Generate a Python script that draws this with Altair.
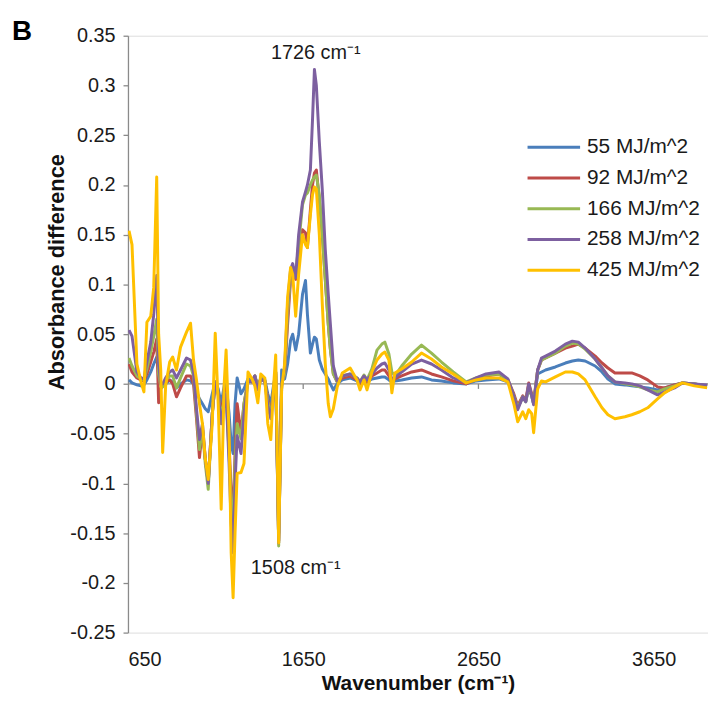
import altair as alt
import pandas as pd

# ---------------- data ----------------
wavenumber = [656, 673, 701, 724, 741, 758, 780, 797, 814, 825, 837, 848, 865, 888, 905, 927, 950, 984, 1007, 1024,
              1041, 1058, 1075, 1091, 1108, 1131, 1148, 1165, 1182, 1199, 1210, 1227, 1239, 1250, 1261, 1273, 1295, 1312,
              1335, 1358, 1374, 1391, 1408, 1431, 1448, 1465, 1482, 1493, 1510, 1527, 1544, 1561, 1578, 1590, 1607, 1624,
              1646, 1663, 1674, 1691, 1703, 1714, 1725, 1742, 1759, 1776, 1793, 1805, 1822, 1844, 1873, 1918, 1957, 1974,
              1997, 2014, 2042, 2071, 2099, 2116, 2139, 2156, 2173, 2212, 2269, 2325, 2382, 2439, 2506, 2580, 2637, 2693,
              2767, 2818, 2852, 2874, 2903, 2920, 2937, 2954, 2965, 2988, 3010, 3033, 3089, 3146, 3186, 3220, 3259, 3316,
              3355, 3389, 3429, 3486, 3525, 3571, 3616, 3672, 3712, 3769, 3814, 3882, 3955]

s55 = [.004, .001, -.001, -.002, -.001, .004, .012, .020, .027, .015, .000, -.002, .000, .004, .002, -.004, .000, .004, .003, .000,
       -.008, -.015, -.020, -.025, -.028, -.010, .002, -.005, -.020, -.002, .000, -.030, -.060, -.070, -.020, .006, -.010, -.005,
       .005, .003, .008, -.002, .006, .004, -.010, -.020, .000, .010, -.150, .014, .005, .020, .044, .050, .034, .050,
       .090, .104, .070, .031, .040, .047, .045, .024, .015, .010, .005, .000, -.006, .000, .004, .006, .003, .001,
       .004, .002, .005, .006, .007, .007, .004, .002, .003, .004, .006, .007, .004, .003, .001, .000, .003, .004,
       .005, .002, -.012, -.024, -.013, -.018, -.004, -.012, -.020, .010, .012, .014, .017, .021, .023, .024, .023, .018,
       .012, .005, .000, -.001, -.002, -.003, -.004, -.006, -.004, -.001, .001, .000, -.002]

s92 = [.020, .012, .006, .004, .003, .010, .022, .032, .045, -.019, -.005, -.002, .002, .004, .000, -.013, -.004, .008, .008, .000,
       -.035, -.074, -.045, -.075, -.100, -.030, .002, -.010, -.030, -.010, -.005, -.060, -.110, -.130, -.070, -.020, -.050, -.020,
       .003, .002, .008, -.004, .005, .003, -.015, -.030, -.005, .012, -.158, .000, .010, .060, .105, .115, .105, .125,
       .155, .152, .137, .175, .200, .212, .215, .185, .150, .105, .060, .035, .010, .002, .006, .008, .004, .000,
       .006, .002, .008, .011, .014, .014, .008, .003, .005, .008, .012, .014, .010, .007, .003, .000, .005, .008,
       .010, .004, -.010, -.022, -.012, -.016, .001, -.010, -.018, .014, .024, .026, .031, .036, .038, .040, .036, .028,
       .021, .016, .011, .011, .011, .008, .004, -.003, -.004, -.001, .001, .000, -.002]

s166 = [.026, .018, .008, .005, .004, .015, .032, .048, .065, .010, -.002, -.003, .004, .008, .008, -.004, .006, .020, .018, .008,
        -.030, -.066, -.045, -.080, -.106, -.030, .002, -.010, -.035, -.015, -.010, -.070, -.120, -.150, -.080, -.040, -.055, -.020,
        .003, .002, .008, -.004, .005, .003, -.018, -.032, -.005, .012, -.163, .000, .010, .070, .110, .118, .110, .140,
        .180, .190, .192, .200, .205, .208, .210, .190, .150, .105, .060, .035, .010, .002, .008, .010, .006, .002,
        .009, .004, .015, .034, .040, .042, .030, .012, .008, .018, .030, .039, .031, .022, .012, .002, .006, .009,
        .010, .004, -.012, -.024, -.013, -.018, -.002, -.012, -.020, .014, .024, .026, .031, .038, .041, .040, .035, .025,
        .016, .008, .002, .000, -.001, -.003, -.006, -.008, -.005, -.002, .001, .000, -.002]

s258 = [.054, .048, .012, .006, .005, .022, .042, .070, .109, .020, .000, .000, .006, .012, .014, .006, .014, .026, .024, .012,
        -.025, -.056, -.040, -.075, -.100, -.030, .002, -.010, -.040, -.020, -.010, -.080, -.140, -.170, -.100, -.052, -.070, -.030,
        .003, .002, .008, -.006, .005, .002, -.022, -.035, -.008, .012, -.160, -.002, .015, .080, .115, .121, .107, .150,
        .183, .193, .200, .215, .265, .316, .300, .243, .195, .135, .090, .060, .018, .003, .008, .010, .006, .002,
        .008, .004, .010, .016, .020, .021, .014, .005, .006, .012, .020, .024, .020, .014, .006, .001, .006, .010,
        .012, .005, -.012, -.026, -.013, -.018, .000, -.012, -.021, .014, .026, .028, .033, .040, .043, .042, .036, .025,
        .016, .008, .002, .001, .000, -.002, -.006, -.011, -.008, -.004, .001, .000, -.001]

s425 = [.154, .140, .020, .002, -.008, .062, .068, .097, .208, .050, .014, -.069, -.002, .022, .027, .014, .037, .052, .061, .024,
        .004, -.020, -.040, -.075, -.096, -.040, .051, -.020, -.126, .000, .034, -.050, -.170, -.215, -.150, -.090, -.089, -.080,
        .012, .005, -.002, -.019, .010, .006, -.040, -.056, .000, .029, -.160, -.005, .020, .087, .117, .110, .068, .110,
        .150, .140, .137, .170, .190, .198, .196, .150, .080, .020, -.020, -.033, -.025, -.003, .011, .016, .004, -.006,
        .004, -.006, .012, .024, .030, .032, .024, -.009, .011, .015, .022, .031, .025, .017, .010, .001, .004, .006,
        .006, .002, -.020, -.038, -.028, -.035, -.026, -.030, -.049, -.005, .003, .002, .007, .012, .012, .010, .004, -.013,
        -.024, -.031, -.035, -.033, -.031, -.028, -.024, -.015, -.009, -.003, .001, -.002, -.004]

series_names = ["55 MJ/m^2", "92 MJ/m^2", "166 MJ/m^2", "258 MJ/m^2", "425 MJ/m^2"]
series_colors = ["#4A7EBB", "#BE4B48", "#98B954", "#7D60A0", "#FFC000"]
x_ticks = [650, 1650, 2650, 3650]
y_ticks = [-0.25, -0.2, -0.15, -0.1, -0.05, 0, 0.05, 0.1, 0.15, 0.2, 0.25, 0.3, 0.35]
peak_text = ["1726 cm\u207b\u00b9", "1508 cm\u207b\u00b9"]
peak_text_x = [1722, 1607]
peak_text_y = [0.333, -0.185]

# ---------------- tables ----------------
rows = []
for name, vals in zip(series_names, [s55, s92, s166, s258, s425]):
    for w, v in zip(wavenumber, vals):
        rows.append({"wn": w, "val": v, "series": name})
df = pd.DataFrame(rows)

zero_df = pd.DataFrame({"x0": [650], "x1": [3960], "y": [0]})
tick_df = pd.DataFrame({"wn": x_ticks[1:]})
ann_df = pd.DataFrame({"t": peak_text, "wn": peak_text_x, "val": peak_text_y})
panel_df = pd.DataFrame({"t": ["B"]})

FONT = "Liberation Sans, Arial, sans-serif"
XMIN, XMAX = 650, 3960
xscale = alt.Scale(domain=[XMIN, XMAX], nice=False, zero=False)
yscale = alt.Scale(domain=[-0.25, 0.35], nice=False, zero=False)

x_axis = alt.Axis(values=x_ticks, labelExpr="'' + datum.value", grid=False, domain=False, ticks=False,
                  tickSize=0, labelPadding=17, labelFontSize=20, labelFont=FONT, labelColor="#1a1a1a",
                  title="Wavenumber (cm\u207b\u00b9)", titleFont=FONT, titleFontSize=21, titleFontWeight="bold",
                  titleColor="#111111", titleY=51, titleBaseline="middle")
y_axis = alt.Axis(values=y_ticks, labelExpr="'' + datum.value", grid=False, domain=True, domainColor="#8a8a8a",
                  domainWidth=1.3, ticks=True, tickColor="#8a8a8a", tickSize=5, tickWidth=1.3, labelPadding=8,
                  labelFontSize=20, labelFont=FONT, labelColor="#1a1a1a",
                  title="Absorbance difference", titleFont=FONT, titleFontSize=22, titleFontWeight="bold",
                  titleColor="#111111", titleX=-72, titleY=238, titleAngle=270, titleAlign="center",
                  titleBaseline="middle")

zero_line = alt.Chart(zero_df).mark_rule(color="#8a8a8a", strokeWidth=1.3).encode(
    x=alt.X("x0:Q", scale=xscale, axis=x_axis), x2="x1:Q",
    y=alt.Y("y:Q", scale=yscale, axis=y_axis))

zero_ticks = alt.Chart(tick_df).mark_rule(color="#8a8a8a", strokeWidth=1.3).encode(
    x=alt.X("wn:Q", scale=xscale), y=alt.datum(0), y2=alt.datum(-0.005))

lines = alt.Chart(df).mark_line(strokeWidth=3, strokeJoin="round", clip=True).encode(
    x=alt.X("wn:Q", scale=xscale),
    y=alt.Y("val:Q", scale=yscale),
    color=alt.Color("series:N", sort=series_names,
                    scale=alt.Scale(domain=series_names, range=series_colors),
                    legend=alt.Legend(title=None, orient="none", legendX=403, legendY=101,
                                      symbolType="M-2.65,0H2.65", symbolSize=400, symbolStrokeWidth=3,
                                      symbolOffset=15, labelOffset=22, rowPadding=9,
                                      labelFontSize=21, labelFont=FONT, labelColor="#1a1a1a")),
    order=alt.Order("wn:Q"))

ann = alt.Chart(ann_df).mark_text(fontSize=20, font=FONT, color="#1a1a1a", align="center",
                                  baseline="middle").encode(
    x=alt.X("wn:Q", scale=xscale), y=alt.Y("val:Q", scale=yscale), text="t:N")

panel = alt.Chart(panel_df).mark_text(fontSize=28, font=FONT, fontWeight="bold", color="#000000",
                                      align="left", baseline="alphabetic").encode(
    x=alt.value(-117), y=alt.value(4), text="t:N")

chart = alt.layer(zero_line, zero_ticks, lines, ann, panel).properties(
    width=585, height=602,
    autosize=alt.AutoSizeParams(type="none"),
    padding={"left": 121, "top": 25, "right": 0, "bottom": 63},
).configure_view(stroke=None).configure(background="white")

chart.save("out.html", embed_options={"renderer": "svg", "actions": False})
